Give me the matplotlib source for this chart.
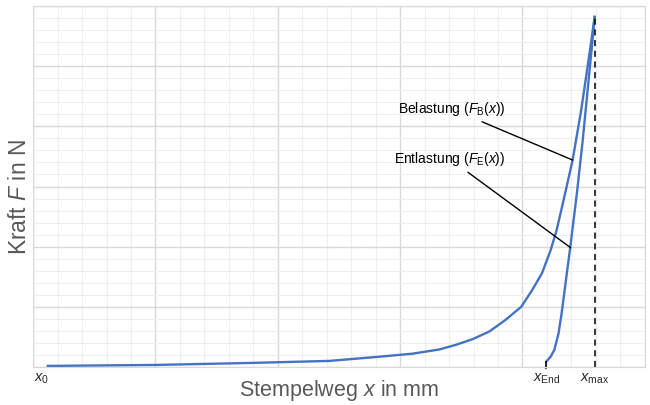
import matplotlib.pyplot as plt
from matplotlib.ticker import MultipleLocator

plt.rcParams['font.family'] = ['Liberation Sans', 'DejaVu Sans']
plt.rcParams['mathtext.fontset'] = 'custom'
plt.rcParams['mathtext.rm'] = 'Liberation Sans'
plt.rcParams['mathtext.it'] = 'Liberation Sans:italic'

# loading curve (Belastung)
x_load = [0.12, 1.0, 1.77, 2.42, 2.83, 3.10, 3.32, 3.46, 3.59, 3.73, 3.86, 3.99, 4.08,
          4.16, 4.23, 4.28, 4.33, 4.41, 4.48, 4.54, 4.59]
f_load = [0.017, 0.033, 0.066, 0.10, 0.17, 0.22, 0.29, 0.37, 0.46, 0.59, 0.78, 1.00, 1.28,
          1.56, 1.94, 2.28, 2.72, 3.44, 4.27, 5.10, 5.82]
# unloading curve (Entlastung)
x_unload = [4.195, 4.23, 4.26, 4.295, 4.32, 4.345, 4.37, 4.39, 4.445, 4.49, 4.53, 4.57, 4.59]
f_unload = [0.09, 0.17, 0.28, 0.56, 0.89, 1.28, 1.67, 1.98, 2.89, 3.72, 4.55, 5.38, 5.82]

x_end = 4.195
x_max = 4.59
tick_pos = [0.07, x_end, x_max]
tick_labels = [r'$\mathit{x}_\mathrm{0}$', r'$\mathit{x}_\mathrm{End}$', r'$\mathit{x}_\mathrm{max}$']

fig, ax = plt.subplots(figsize=(6.5, 4.05), dpi=100)
fig.subplots_adjust(left=0.051, right=0.992, top=0.985, bottom=0.094)

blue = '#4472c4'
ax.plot(x_load, f_load, color=blue, lw=1.7, solid_joinstyle='round')
ax.plot(x_unload, f_unload, color=blue, lw=1.7, solid_joinstyle='round')
ax.plot([x_max, x_max], [0, 5.82], color='black', lw=1.1, ls=(0, (4, 3)))
ax.plot([x_end, x_end], [-0.02, 0.09], color='black', lw=1.2, clip_on=False)

ax.set_xlim(0, 5)
ax.set_ylim(0, 6)
ax.xaxis.set_major_locator(MultipleLocator(1))
ax.xaxis.set_minor_locator(MultipleLocator(0.2))
ax.yaxis.set_major_locator(MultipleLocator(1))
ax.yaxis.set_minor_locator(MultipleLocator(0.2))
ax.grid(which='major', color='#d9d9d9', lw=1.0)
ax.grid(which='minor', color='#efefef', lw=0.8)
ax.set_axisbelow(True)
ax.tick_params(which='both', length=0, labelleft=False, labelbottom=False)
for s in ax.spines.values():
    s.set_color('#d9d9d9')

for p, l in zip(tick_pos, tick_labels):
    ax.text(p, -0.08, l, ha='center', va='top', fontsize=10.5, color='#262626')

ax.annotate(r'Belastung ($F_\mathrm{B}(x)$)', xy=(4.41, 3.44), xytext=(3.86, 4.29),
            ha='right', va='center', fontsize=10,
            arrowprops=dict(arrowstyle='-', color='black', lw=1.0, shrinkA=2, shrinkB=0))
ax.annotate(r'Entlastung ($F_\mathrm{E}(x)$)', xy=(4.395, 1.98), xytext=(3.86, 3.46),
            ha='right', va='center', fontsize=10,
            arrowprops=dict(arrowstyle='-', color='black', lw=1.0, shrinkA=2, shrinkB=0))

ax.set_xlabel(r'Stempelweg $x$ in mm', fontsize=15.5, color='#595959', labelpad=8)
ax.set_ylabel(r'Kraft $F$ in N', fontsize=16.5, color='#595959')
ax.yaxis.set_label_coords(-0.004, 0.47)

fig.savefig('out.png')
